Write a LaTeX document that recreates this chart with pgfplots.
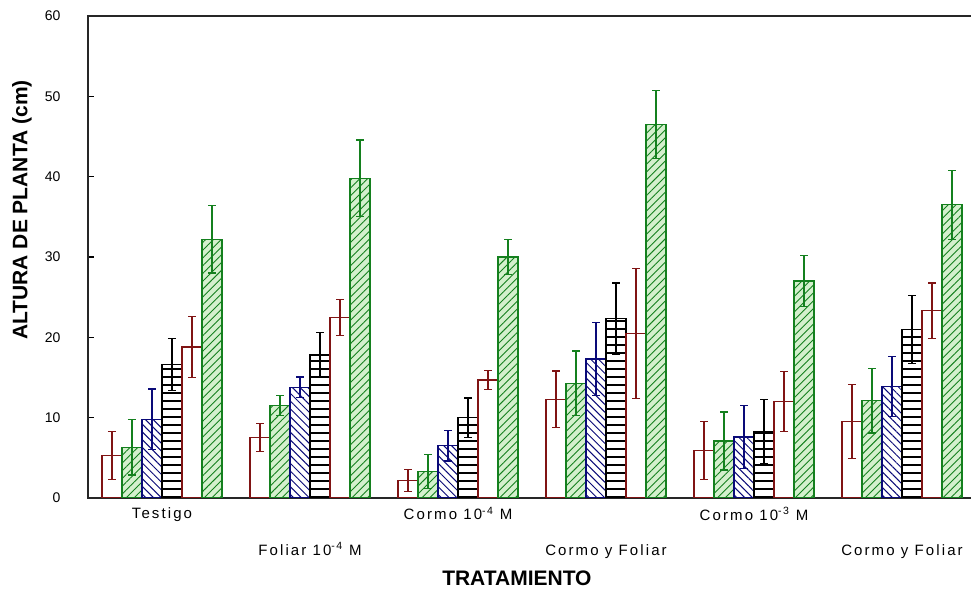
\documentclass[border=0pt]{standalone}
\usepackage{fontspec}
\setmainfont{Liberation Sans}
\newfontfamily\tickfont[LetterSpace=14]{Liberation Sans}
\usepackage{pgfplots}
\usepackage{pgfplotstable}
\pgfplotsset{compat=1.18}
\usetikzlibrary{patterns.meta}

\definecolor{cred}{RGB}{128,20,20}
\definecolor{cgreen}{RGB}{20,128,30}
\definecolor{cblue}{RGB}{10,10,120}
\definecolor{lgreen}{RGB}{212,240,205}

% group, means s1..s6, errors e1..e6
\pgfplotstableread{
x s1  s2   s3   s4   s5   s6   e1   e2   e3   e4   e5   e6
1 5.3 6.3  9.8  16.6 18.8 32.2 3.0  3.45 3.75 3.25 3.8  4.2
2 7.5 11.5 13.8 17.8 22.5 39.8 1.75 1.25 1.25 2.8  2.25 4.75
3 2.2 3.3  6.5  10.0 14.7 30.0 1.35 2.15 1.9  2.45 1.2  2.2
4 12.3 14.3 17.3 22.3 20.5 46.5 3.5 4.0  4.55 4.45 8.1  4.2
5 5.9 7.1  7.6  8.3  12.0 27.0 3.6  3.6  3.95 4.0  3.75 3.15
6 9.5 12.1 13.9 21.0 23.3 36.5 4.6  4.0  3.75 4.25 3.45 4.3
}\datatable

\begin{document}
\begin{tikzpicture}
\begin{axis}[
    name=ax,
    scale only axis,
    width=888pt, height=482pt,
    xmin=0.5, xmax=6.5,
    ymin=0, ymax=60,
    ybar=0pt, bar width=20pt,
    axis line style={line width=1.4pt, black!85},
    tick align=inside,
    tick style={line width=1.2pt, black},
    ytick={0,10,...,60},
    ytick pos=left,
    major tick length=6pt,
    xtick={1,...,6},
    x tick style={draw=none},
    minor xtick={0.5,1.5,...,6.5},
    minor tick length=6pt,
    xticklabels={Testigo, {\strut\\Foliar 10\textsuperscript{-4} M}, Cormo 10\textsuperscript{-4} M,
        {\strut\\Cormo y Foliar}, Cormo 10\textsuperscript{-3} M, {\strut\\Cormo y Foliar}},
    xticklabel style={font=\tickfont\fontsize{15}{28}\selectfont, align=center, anchor=north, yshift=-6pt},
    yticklabel style={font=\fontsize{14}{16}\selectfont, xshift=-24pt},
    /pgf/number format/assume math mode=true,
    every axis y label/.style={at={(axis description cs:-0.0743,0.5975)}, rotate=90, anchor=center},
    every axis x label/.style={at={(axis description cs:0.483,-0.166)}, anchor=center},
    ylabel={ALTURA DE PLANTA (cm)},
    xlabel={TRATAMIENTO},
    label style={font=\bfseries\fontsize{21}{24}\selectfont},
    error bars/y dir=both,
    error bars/y explicit,
]
\addplot+[draw=cred, fill=white, line width=1.2pt,
    error bars/error bar style={cred, line width=1.3pt},
    error bars/error mark options={rotate=90, mark size=4pt, line width=1.3pt, cred}]
    table[x=x, y=s1, y error=e1]{\datatable};
\addplot+[draw=cgreen, fill=lgreen, line width=1.2pt,
    postaction={pattern={Lines[angle=45, distance=5.5pt, line width=0.9pt]}, pattern color=cgreen},
    error bars/error bar style={cgreen, line width=1.3pt},
    error bars/error mark options={rotate=90, mark size=4pt, line width=1.3pt, cgreen}]
    table[x=x, y=s2, y error=e2]{\datatable};
\addplot+[draw=cblue, fill=white, line width=1.2pt,
    postaction={pattern={Lines[angle=-45, distance=5.5pt, line width=1pt]}, pattern color=cblue},
    error bars/error bar style={cblue, line width=1.3pt},
    error bars/error mark options={rotate=90, mark size=4pt, line width=1.3pt, cblue}]
    table[x=x, y=s3, y error=e3]{\datatable};
\addplot+[draw=black, fill=white, line width=1.2pt,
    postaction={pattern={Lines[angle=0, distance=8pt, line width=1.2pt]}, pattern color=black},
    error bars/error bar style={black, line width=1.3pt},
    error bars/error mark options={rotate=90, mark size=4pt, line width=1.3pt, black}]
    table[x=x, y=s4, y error=e4]{\datatable};
\addplot+[draw=cred, fill=white, line width=1.2pt,
    error bars/error bar style={cred, line width=1.3pt},
    error bars/error mark options={rotate=90, mark size=4pt, line width=1.3pt, cred}]
    table[x=x, y=s5, y error=e5]{\datatable};
\addplot+[draw=cgreen, fill=lgreen, line width=1.2pt,
    postaction={pattern={Lines[angle=45, distance=5.5pt, line width=0.9pt]}, pattern color=cgreen},
    error bars/error bar style={cgreen, line width=1.3pt},
    error bars/error mark options={rotate=90, mark size=4pt, line width=1.3pt, cgreen}]
    table[x=x, y=s6, y error=e6]{\datatable};
\end{axis}
\pgfresetboundingbox
\path[use as bounding box] (ax.south west) ++(-88pt,-95pt) rectangle ++(971pt,593pt);
\end{tikzpicture}
\end{document}
